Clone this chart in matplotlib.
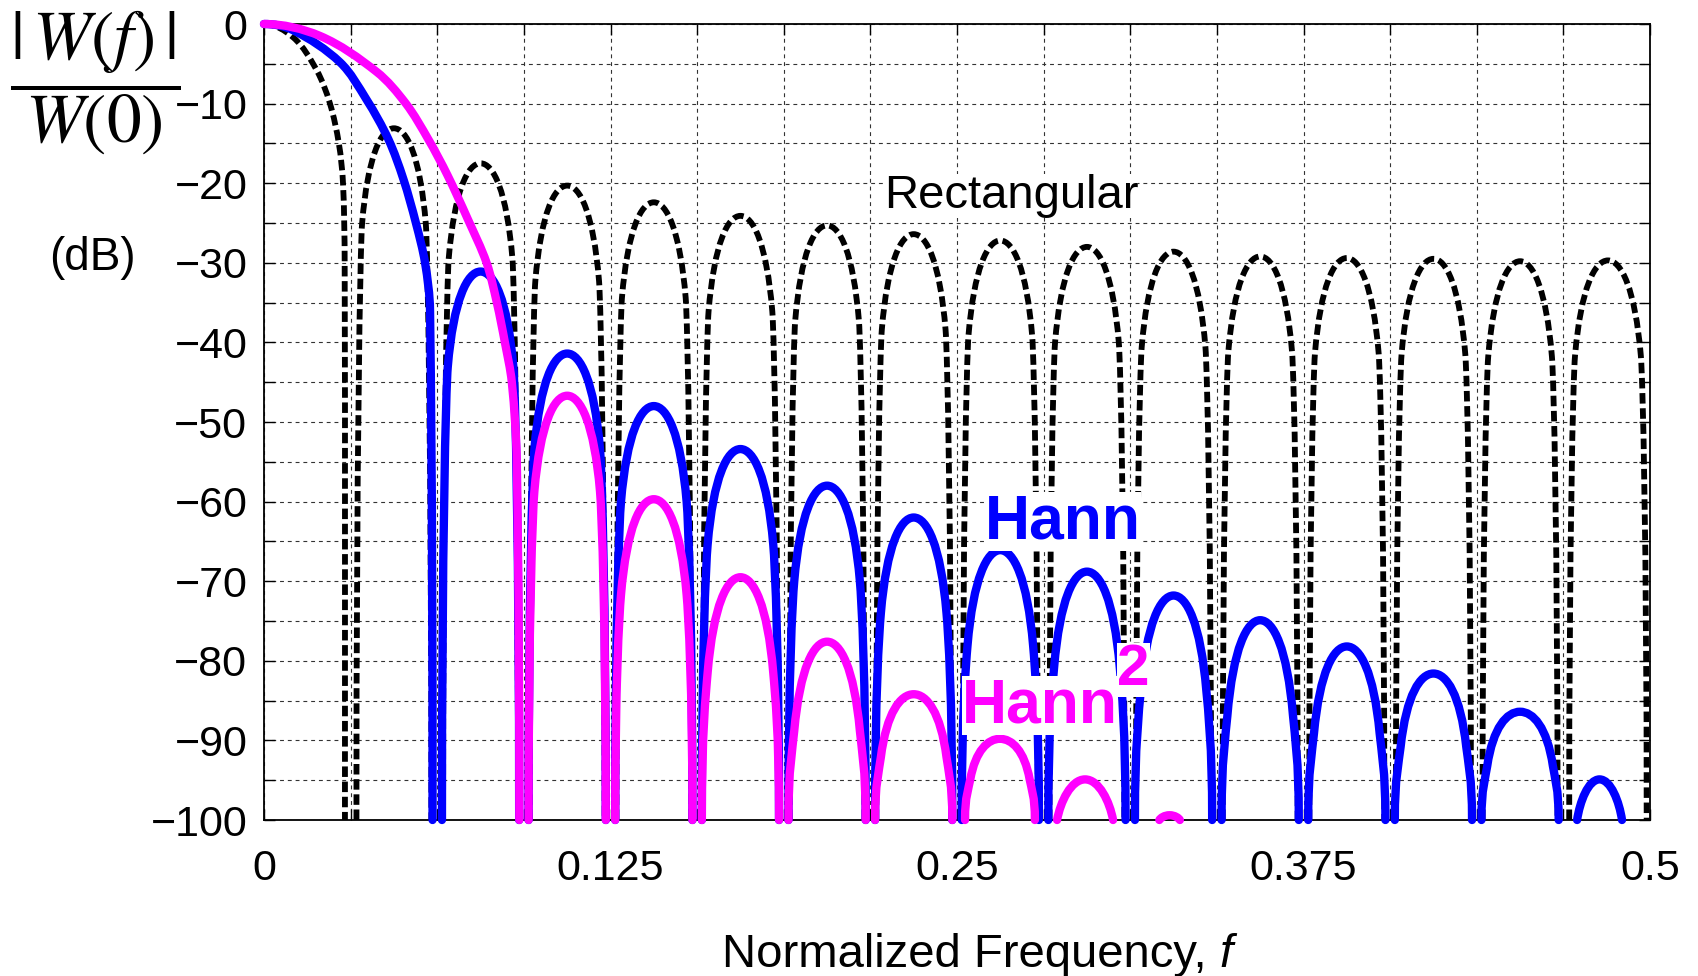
import numpy as np
import matplotlib
matplotlib.use('Agg')
import matplotlib.pyplot as plt
from matplotlib.path import Path
from matplotlib.patches import PathPatch

plt.rcParams['font.family'] = ['Liberation Sans', 'DejaVu Sans']
plt.rcParams['mathtext.fontset'] = 'stix'

# Nulls of the 32-point window spectra (normalized frequency)
nulls = [0.03125, 0.0625, 0.09375, 0.125, 0.15625, 0.1875, 0.21875, 0.25,
         0.28125, 0.3125, 0.34375, 0.375, 0.40625, 0.4375, 0.46875, 0.5]

# Rectangular window: main lobe samples and side lobe peaks (dB)
rect_main_f = [0.0, 0.0106, 0.0190, 0.0238, 0.0270, 0.0285, 0.0291, 0.0292]
rect_main_db = [0.0, -1.7, -5.8, -10.0, -15.0, -20.0, -30.0, -100.0]
rect_side_db = [-13.1, -17.5, -20.3, -22.4, -24.1, -25.3, -26.4, -27.2,
                -28.0, -28.6, -29.2, -29.4, -29.5, -29.8, -29.7]

# Hann window
hann_main_f = [0.0, 0.0106, 0.0274, 0.0370, 0.0449, 0.0503, 0.0548, 0.0581,
               0.0599, 0.0608]
hann_main_db = [0.0, -0.8, -4.8, -9.5, -14.5, -19.5, -25.0, -30.0,
                -36.0, -100.0]
hann_side_db = [-31.1, -41.4, -48.0, -53.4, -58.0, -62.0, -66.1, -68.8,
                -71.8, -74.9, -78.2, -81.6, -86.4]
hann_tail_lo = [0.4737]
hann_tail_hi = [0.4899]
hann_tail_db = [-94.9]

# Hann^2 window
hann2_main_f = [0.0, 0.0202, 0.0406, 0.0512, 0.0593, 0.0662, 0.0735, 0.0803,
                0.0840, 0.0869, 0.0894, 0.0912, 0.0921]
hann2_main_db = [0.0, -1.5, -6.0, -10.0, -14.5, -19.0, -24.5, -30.0,
                 -35.0, -40.0, -45.0, -55.0, -100.0]
hann2_side_db = [-46.7, -59.7, -69.5, -77.6, -84.2]
hann2_tail_lo = [0.2529, 0.2861, 0.3230]
hann2_tail_hi = [0.2781, 0.3063, 0.3304]
hann2_tail_db = [-89.8, -94.9, -99.4]

FLOOR = -100.0
PX = np.array([2772.0, 7.96])   # pixels per unit frequency / per dB


def bezier_codes(n):
    return [Path.MOVETO] + [Path.CURVE4] * (n - 1)


def main_lobe(xs, ys):
    # smooth curve through the samples, flat at 0 Hz, vertical into the floor
    P = np.column_stack([xs, ys]).astype(float) * PX
    n = len(P)
    seg = np.linalg.norm(np.diff(P, axis=0), axis=1)
    T = np.zeros_like(P)
    T[0] = [1.0, 0.0]
    T[-1] = [0.0, -1.0]
    for i in range(1, n - 1):
        d = P[i + 1] - P[i - 1]
        T[i] = d / np.linalg.norm(d)
    verts = [P[0]]
    for i in range(n - 1):
        L = seg[i] / 3
        verts += [P[i] + T[i] * L, P[i + 1] - T[i + 1] * L, P[i + 1]]
    verts = np.array(verts) / PX
    return Path(verts, bezier_codes(len(verts)))


def side_lobe(lo, hi, peak):
    # rounded arch between two floor crossings
    m = (lo + hi) / 2
    w = (hi - lo) / 2
    h = peak - FLOOR
    if h >= 8:
        d = min(12.0, 0.5 * h)
        k = 57.0 * d / 12.0
        right = [(m, peak), (m + 0.34 * w, peak), (m + 0.70 * w, peak - d + 0.15 * k),
                 (m + 0.85 * w, peak - d), (m + 0.90 * w, peak - d - 0.05 * k),
                 (hi, peak - d - 0.4 * (h - d)), (hi, FLOOR)]
    else:
        right = [(m, peak), (m + 0.5 * w, peak), (hi - 0.12 * w, peak - 0.55 * h),
                 (hi, FLOOR)]
    left = [(2 * m - x, y) for x, y in reversed(right)]
    verts = left + right[1:]
    return Path(verts, bezier_codes(len(verts)))


fig = plt.figure(figsize=(16.99, 9.76), dpi=100)
ax = fig.add_axes([264 / 1699, 156 / 976, 1386 / 1699, 796 / 976])

ax.set_xlim(0, 0.5)
ax.set_ylim(-100, 0)

xt = np.arange(0, 0.5001, 1 / 32)
xlab = {0.0: '0', 0.125: '0.125', 0.25: '0.25', 0.375: '0.375', 0.5: '0.5'}
ax.set_xticks(xt, [xlab.get(round(v, 5), '') for v in xt])
yt = np.arange(-100, 1, 5)
ax.set_yticks(yt, [('\u2212%d' % -v if v < 0 else '0') if v % 10 == 0 else '' for v in yt])
ax.tick_params(direction='in', length=8, width=1.0, top=True, right=True,
               labelsize=31, colors='black')
ax.tick_params(axis='y', pad=12)
ax.tick_params(axis='x', pad=21)
ax.grid(True, color='#333333', linestyle=(0, (3.5, 3.5)), linewidth=0.8)
ax.set_axisbelow(True)
for s in ax.spines.values():
    s.set_linewidth(1.3)


def add(path, **kw):
    ax.add_patch(PathPatch(path, fill=False, clip_on=False, **kw))


rect_style = dict(edgecolor='black', linewidth=4.2, linestyle=(0, (1.8, 0.8)),
                  capstyle='butt', joinstyle='round', zorder=2)
hann_style = dict(edgecolor='#0000ff', linewidth=6.0, capstyle='round',
                  joinstyle='round', zorder=3)
hann2_style = dict(edgecolor='#ff00ff', linewidth=6.0, capstyle='round',
                   joinstyle='round', zorder=4)

gap_rect = 0.0021
gap = 0.0017

# Rectangular
add(main_lobe(rect_main_f, rect_main_db), **rect_style)
for i, pk in enumerate(rect_side_db):
    hi = nulls[i + 1] - gap_rect if i + 1 < len(nulls) - 1 else nulls[i + 1] - 0.0012
    add(side_lobe(nulls[i] + gap_rect, hi, pk), **rect_style)

# Hann
add(main_lobe(hann_main_f, hann_main_db), **hann_style)
for i, pk in enumerate(hann_side_db):
    add(side_lobe(nulls[i + 1] + gap, nulls[i + 2] - gap, pk), **hann_style)
for lo, hi, pk in zip(hann_tail_lo, hann_tail_hi, hann_tail_db):
    add(side_lobe(lo, hi, pk), **hann_style)

# Hann^2
add(main_lobe(hann2_main_f, hann2_main_db), **hann2_style)
for i, pk in enumerate(hann2_side_db):
    add(side_lobe(nulls[i + 2] + gap, nulls[i + 3] - gap, pk), **hann2_style)
for lo, hi, pk in zip(hann2_tail_lo, hann2_tail_hi, hann2_tail_db):
    add(side_lobe(lo, hi, pk), **hann2_style)

white = dict(facecolor='white', edgecolor='none', pad=0)
ax.text(0.2695, -23.1, 'Rectangular', fontsize=34, ha='center', va='baseline',
        bbox=white, zorder=6)
ax.text(0.2882, -64.6, 'Hann', fontsize=45, fontweight='bold', color='#0000ff',
        ha='center', va='baseline', bbox=white, zorder=6)
ax.text(0.2799, -87.7, 'Hann', fontsize=45, fontweight='bold', color='#ff00ff',
        ha='center', va='baseline', bbox=white, zorder=6)
ax.text(0.3078, -83.0, '2', fontsize=42, fontweight='bold', color='#ff00ff',
        ha='left', va='baseline', bbox=white, zorder=6)

# axis titles
fig.text(95 / 1699, 1 - 83 / 976, r'$\dfrac{|\,W(f)\,|}{W(0)}$', fontsize=50,
         ha='center', va='center')
fig.text(92 / 1699, 1 - 258 / 976, '(dB)', fontsize=33, ha='center', va='center')
xl = fig.text(971 / 1699, 1 - 967 / 976, 'Normalized Frequency, ', fontsize=34,
              ha='center', va='baseline')
ax.annotate('f', xy=(1, 0), xycoords=xl, fontsize=34, style='italic',
            ha='left', va='bottom')

fig.savefig('out.png', dpi=100, facecolor='white')
